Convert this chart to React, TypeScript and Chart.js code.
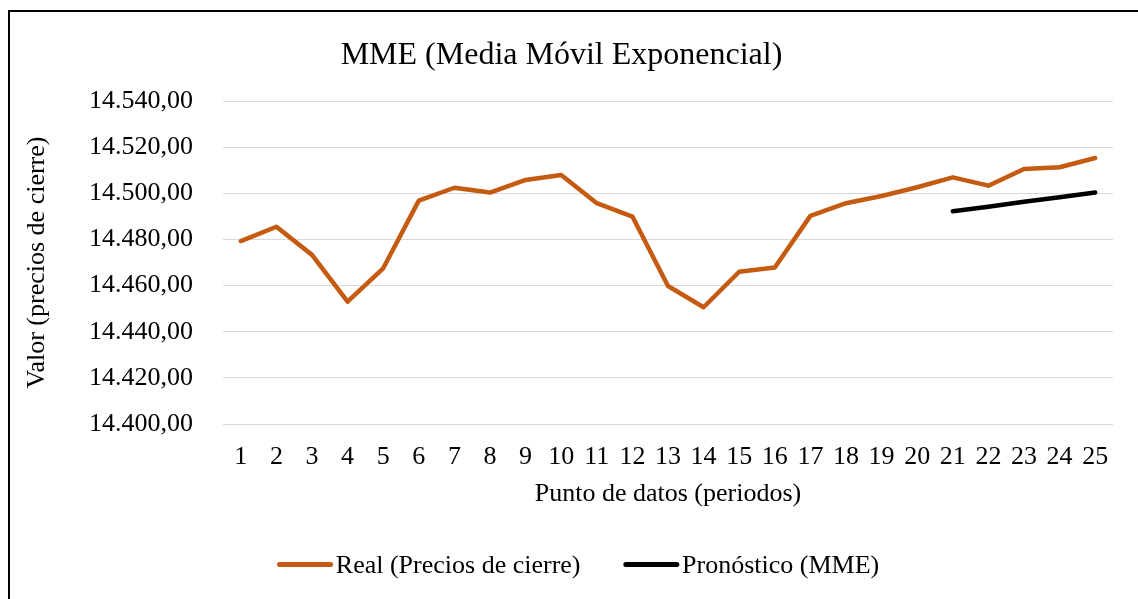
import React, { useEffect, useRef } from "react";
import { Chart, registerables } from "chart.js";

Chart.register(...registerables);

const categories: string[] = [
  "1", "2", "3", "4", "5", "6", "7", "8", "9", "10", "11", "12", "13",
  "14", "15", "16", "17", "18", "19", "20", "21", "22", "23", "24", "25",
];

const realValues: number[] = [
  14479.3, 14485.5, 14473.3, 14453.0, 14467.5, 14496.8, 14502.4, 14500.3,
  14505.8, 14507.9, 14495.7, 14489.9, 14459.8, 14450.6, 14466.0, 14467.8,
  14490.2, 14495.7, 14498.8, 14502.6, 14506.9, 14503.3, 14510.5, 14511.3,
  14515.3,
];

const forecastValues: (number | null)[] = [
  null, null, null, null, null, null, null, null, null, null, null, null,
  null, null, null, null, null, null, null, null,
  14492.2, 14494.2, 14496.3, 14498.3, 14500.3,
];

const yMin = 14400;
const yMax = 14540;
const yStep = 20;

const titleText = "MME (Media Móvil Exponencial)";
const xTitle = "Punto de datos (periodos)";
const yTitle = "Valor (precios de cierre)";
const realLabel = "Real (Precios de cierre)";
const forecastLabel = "Pronóstico (MME)";

const FONT = "'Liberation Serif', 'Times New Roman', serif";

function fmt(v: number): string {
  const fixed = v.toFixed(2);
  const [intPart, dec] = fixed.split(".");
  const grouped = intPart.replace(/\B(?=(\d{3})+(?!\d))/g, ".");
  return grouped + "," + dec;
}

// Excel-like legend: short line, tiny gap, text; wide gap between items
const excelLegend = {
  id: "excelLegend",
  afterDraw(chart: any) {
    const ctx = chart.ctx;
    const lineW = 55;
    const gapText = 3.3;
    const gapItem = 43.3;
    const baseline = 561;
    const lineY = 552.5;
    ctx.save();
    ctx.font = `26px ${FONT}`;
    const items = chart.data.datasets.map((d: any) => ({
      label: d.label as string,
      color: d.borderColor as string,
      w: ctx.measureText(d.label).width,
    }));
    let total = 0;
    items.forEach((it: any, i: number) => {
      total += lineW + gapText + it.w + (i < items.length - 1 ? gapItem : 0);
    });
    let x = chart.width / 2 + 3.4 - total / 2;
    items.forEach((it: any) => {
      ctx.strokeStyle = it.color;
      ctx.lineWidth = 5;
      ctx.lineCap = "round";
      ctx.beginPath();
      ctx.moveTo(x + 2, lineY);
      ctx.lineTo(x + lineW - 2, lineY);
      ctx.stroke();
      x += lineW + gapText;
      ctx.fillStyle = "#000";
      ctx.textBaseline = "alphabetic";
      ctx.textAlign = "left";
      ctx.fillText(it.label, x, baseline);
      x += it.w + gapItem;
    });
    ctx.restore();
  },
};

export default function App() {
  const ref = useRef<HTMLCanvasElement | null>(null);

  useEffect(() => {
    if (!ref.current) return;
    const chart = new Chart(ref.current, {
      type: "line",
      data: {
        labels: categories,
        datasets: [
          {
            label: realLabel,
            data: realValues,
            borderColor: "#C55A11",
            backgroundColor: "#C55A11",
            borderWidth: 4.5,
            pointRadius: 0,
            borderCapStyle: "round",
            borderJoinStyle: "round",
            tension: 0,
          },
          {
            label: forecastLabel,
            data: forecastValues,
            borderColor: "#000000",
            backgroundColor: "#000000",
            borderWidth: 4.5,
            pointRadius: 0,
            borderCapStyle: "round",
            borderJoinStyle: "round",
            tension: 0,
          },
        ],
      },
      plugins: [excelLegend],
      options: {
        responsive: false,
        animation: false,
        layout: { padding: { left: 0, right: 27, top: 0, bottom: 59 } },
        plugins: {
          tooltip: { enabled: false },
          legend: { display: false },
          title: {
            display: true,
            text: titleText,
            color: "#000",
            font: { family: FONT, size: 32, weight: "normal" },
            padding: { top: 24.8, bottom: 25.8 },
          },
        },
        scales: {
          x: {
            offset: true,
            grid: { display: false, drawTicks: false },
            border: { display: false },
            ticks: {
              color: "#000",
              font: { family: FONT, size: 26 },
              padding: 17.4,
              maxRotation: 0,
              autoSkip: false,
            },
            title: {
              display: true,
              text: xTitle,
              color: "#000",
              font: { family: FONT, size: 26 },
              padding: { top: 0, bottom: 33.4 },
            },
            afterFit: (s: any) => {
              s.height = 119;
            },
          },
          y: {
            min: yMin,
            max: yMax,
            grid: { color: "#D9D9D9", lineWidth: 1, drawTicks: false },
            border: { display: false },
            ticks: {
              stepSize: yStep,
              color: "#000",
              font: { family: FONT, size: 26 },
              padding: 30,
              callback: (v: any) => fmt(Number(v)),
            },
            title: {
              display: true,
              text: yTitle,
              color: "#000",
              font: { family: FONT, size: 26 },
              padding: { top: 11.4, bottom: 0 },
            },
            afterFit: (s: any) => {
              s.width = 213;
            },
          },
        },
      },
    });
    return () => chart.destroy();
  }, []);

  return (
    <div
      style={{
        position: "fixed",
        left: 8,
        top: 10,
        width: 1130,
        height: 590,
        border: "2px solid #000",
        background: "#fff",
      }}
    >
      <canvas ref={ref} width={1130} height={590} style={{ display: "block" }} />
    </div>
  );
}
